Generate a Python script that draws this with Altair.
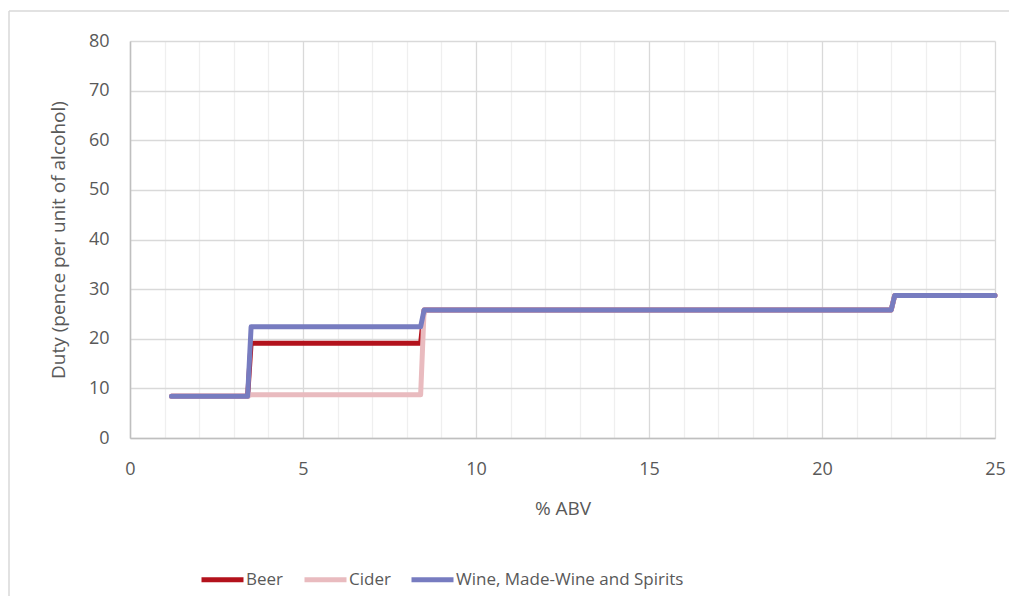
import altair as alt
import pandas as pd

# step-function data
beer_x = [1.2, 3.4, 3.5, 8.4, 8.5, 22.0, 22.1, 25.0]
beer_y = [8.4, 8.4, 19.1, 19.1, 25.8, 25.8, 28.7, 28.7]
cider_x = [1.2, 3.4, 3.5, 8.4, 8.5, 22.0, 22.1, 25.0]
cider_y = [8.4, 8.4, 8.7, 8.7, 25.8, 25.8, 28.7, 28.7]
wine_x = [1.2, 3.4, 3.5, 8.4, 8.5, 22.0, 22.1, 25.0]
wine_y = [8.4, 8.4, 22.4, 22.4, 25.8, 25.8, 28.7, 28.7]

series = ["Beer", "Cider", "Wine, Made-Wine and Spirits"]
colors = ["#b3121c", "#e9bbbf", "#777cc0"]

rows = []
for name, xs, ys in zip(series, [beer_x, cider_x, wine_x], [beer_y, cider_y, wine_y]):
    for i, (xv, yv) in enumerate(zip(xs, ys)):
        rows.append({"series": name, "abv": xv, "duty": yv, "order": i})
df = pd.DataFrame(rows)

FONT = "Open Sans"
TXT = "#595959"

x_ticks = list(range(0, 26))
y_ticks = list(range(0, 81, 10))

lines = alt.Chart(df).mark_line(strokeWidth=5, strokeCap="round", strokeJoin="round").encode(
    x=alt.X("abv:Q", title="% ABV",
            scale=alt.Scale(domain=[0, 25], nice=False, zero=False),
            axis=alt.Axis(values=x_ticks,
                          labelExpr="datum.value % 5 === 0 ? datum.label : ''",
                          labelFlush=False,
                          ticks=False, labelPadding=22, titlePadding=21,
                          labelFont=FONT, labelFontSize=18, labelColor=TXT,
                          titleFont=FONT, titleFontSize=19, titleColor=TXT, titleFontWeight="normal",
                          gridColor={"condition": {"test": "datum.value % 5 === 0", "value": "#d9d9d9"},
                                     "value": "#efefef"},
                          gridWidth=1.3,
                          domainColor="#bfbfbf", domainWidth=1.5)),
    y=alt.Y("duty:Q", title="Duty (pence per unit of alcohol)",
            scale=alt.Scale(domain=[0, 80], nice=False),
            axis=alt.Axis(values=y_ticks, ticks=False, labelPadding=21, titlePadding=20,
                          labelFont=FONT, labelFontSize=18, labelColor=TXT,
                          titleFont=FONT, titleFontSize=19, titleColor=TXT, titleFontWeight="normal",
                          gridColor="#d9d9d9", gridWidth=1.3,
                          domainColor="#bfbfbf", domainWidth=1.5)),
    color=alt.Color("series:N", title=None,
                    scale=alt.Scale(domain=series, range=colors),
                    legend=alt.Legend(orient="none", legendX=69, legendY=515,
                                      direction="horizontal", symbolType="stroke",
                                      symbolSize=1764, symbolStrokeWidth=5,
                                      labelOffset=0, columnPadding=10, labelLimit=400,
                                      labelFont=FONT, labelFontSize=17, labelColor=TXT)),
    order="order:Q",
)

frame_df = pd.DataFrame({"k": [0]})
frame_left = alt.Chart(frame_df).mark_rule(stroke="#d9d9d9", strokeWidth=1.5, clip=False).encode(
    x=alt.value(-121), y=alt.value(-30), y2=alt.value(557))
frame_top = alt.Chart(frame_df).mark_rule(stroke="#d9d9d9", strokeWidth=1.5, clip=False).encode(
    x=alt.value(-121), x2=alt.value(879), y=alt.value(-30))

chart = alt.layer(frame_left, frame_top, lines).properties(
    width=865, height=397,
    autosize=alt.AutoSizeParams(type="none"),
    padding={"left": 122, "top": 33, "right": 14, "bottom": 158},
    background="white",
).configure_view(stroke=None)

chart.save("out.html", embed_options={"renderer": "svg", "actions": False})
